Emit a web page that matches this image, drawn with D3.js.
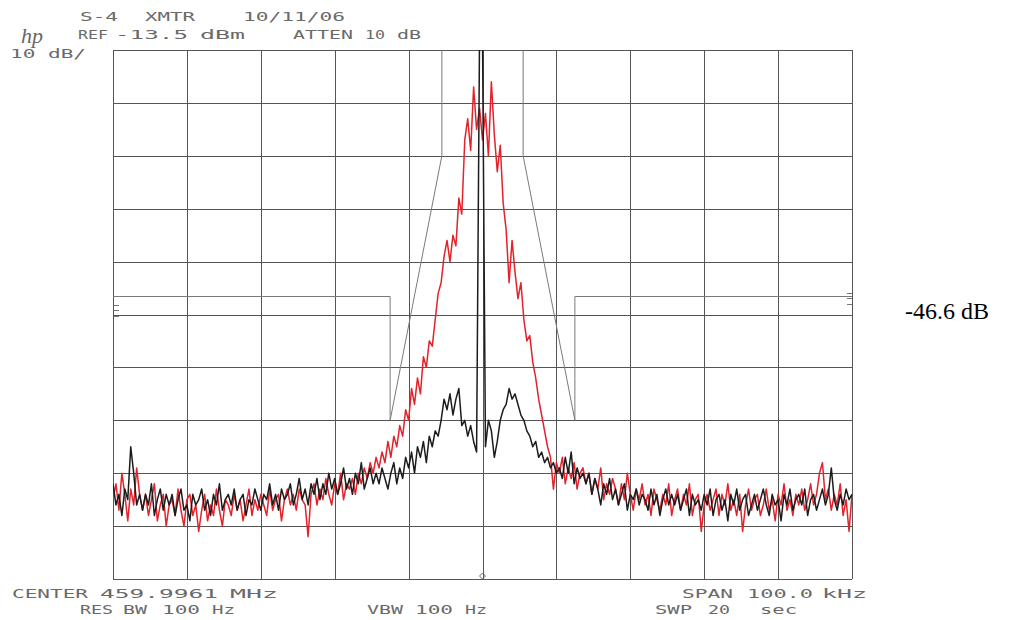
<!DOCTYPE html>
<html>
<head>
<meta charset="utf-8">
<script src="https://cdn.jsdelivr.net/npm/d3@7"></script>
<style>
  html, body { margin: 0; padding: 0; background: #fff; }
  svg { display: block; }
</style>
</head>
<body>
<svg id="chart" width="1019" height="620"></svg>
<script>
// sweep: -50 .. +50 kHz around centre, 0.4 kHz per sample, dB relative to REF
var spanKHz = [-50, 50];
var levelDb = [-100, 0];
var gridFreqs = [-50, -40, -30, -20, -10, 0, 10, 20, 30, 40, 50];
var gridLevels = [-100, -90, -80, -70, -60, -50, -40, -30, -20, -10, 0];
var sampleStep = 0.4;

// red trace (modulated carrier)
var redTrace = [
  -85, -82, -87, -80, -84, -89, -83, -86, -79, -84,
  -87, -84, -88, -85, -82, -89, -86, -84, -90, -86,
  -85, -88, -83, -87, -90, -85, -84, -88, -86, -91,
  -87, -84, -89, -86, -88, -83, -87, -90, -85, -86,
  -88, -84, -87, -85, -89, -86, -83, -88, -85, -87,
  -84, -86, -88, -83, -87, -85, -84, -89, -85, -83,
  -86, -84, -87, -83, -85, -86, -92, -84, -82, -86,
  -83, -85, -81, -84, -86, -82, -84, -80, -85, -82,
  -83, -81, -84, -80, -82, -79, -81, -78, -80, -77,
  -79, -76, -78, -74, -77, -73, -75, -71, -73, -68,
  -70, -64, -67, -62, -65, -58, -60, -55, -56, -51,
  -46, -44, -39, -36, -40, -35, -37, -28, -31, -17,
  -13, -19, -7, -15, -11, -17, -12, -20, -6, -16,
  -23, -18, -29, -34, -44, -36, -42, -47, -44, -51,
  -55, -54, -59, -62, -66, -69, -72, -75, -77, -83,
  -78, -80, -77, -82, -79, -81, -78, -83, -80, -79,
  -82, -80, -84, -81, -83, -79, -85, -82, -84, -81,
  -83, -86, -82, -85, -80, -84, -87, -83, -85, -82,
  -86, -84, -88, -83, -85, -87, -84, -86, -82, -88,
  -85, -83, -87, -84, -86, -82, -88, -85, -84, -91,
  -86, -84, -87, -85, -83, -88, -84, -86, -82, -87,
  -85, -88, -84, -91, -86, -83, -87, -85, -84, -88,
  -86, -83, -87, -85, -89, -84, -86, -82, -87, -85,
  -88, -84, -86, -83, -87, -85, -82, -86, -84, -80,
  -78, -85, -83, -87, -84, -86, -82, -88, -85, -91,
  -84
];

// black trace (unmodulated carrier, spike runs off the top)
var blackTrace = [
  -82, -86, -84, -88, -83, -85, -75, -80, -86, -84,
  -87, -84, -86, -82, -88, -85, -83, -87, -84, -86,
  -84, -88, -85, -83, -87, -86, -89, -84, -86, -85,
  -83, -87, -85, -88, -84, -86, -82, -87, -85, -84,
  -86, -83, -87, -85, -84, -88, -85, -86, -83, -85,
  -87, -84, -85, -82, -86, -84, -87, -83, -85, -84,
  -82, -86, -84, -81, -85, -83, -86, -82, -84, -81,
  -85, -82, -84, -80, -83, -81, -84, -82, -79, -83,
  -81, -84, -80, -82, -78, -83, -81, -79, -82, -80,
  -82, -79, -81, -83, -80, -78, -82, -79, -81, -77,
  -79, -76, -80, -75, -77, -74, -78, -73, -75, -72,
  -73, -70, -66, -68, -65, -69, -66, -64, -71, -70,
  -73, -71, -74, -76, 3, 3, -75, -70, -72, -77,
  -74, -70, -68, -67, -64, -66, -65, -67, -69, -70,
  -72, -73, -75, -74, -77, -76, -78, -77, -79, -78,
  -80, -79, -81, -77, -80, -76, -82, -79, -81, -80,
  -82, -80, -84, -81, -83, -86, -82, -84, -81, -85,
  -83, -86, -84, -82, -87, -84, -85, -83, -86, -84,
  -85, -87, -83, -86, -84, -88, -85, -83, -86, -84,
  -86, -84, -87, -85, -83, -88, -84, -86, -85, -87,
  -84, -86, -83, -88, -85, -84, -87, -85, -89, -84,
  -86, -83, -87, -85, -84, -88, -86, -84, -87, -85,
  -83, -86, -88, -84, -86, -85, -89, -84, -86, -83,
  -87, -85, -84, -86, -83, -88, -85, -84, -87, -85,
  -83, -86, -84, -79, -85, -87, -84, -86, -83, -85,
  -84
];

// emission mask (drawn in two halves)
var maskLeftFreq = [-50, -12.5, -12.5, -5.5, -5.5];
var maskLeftDb = [-46.6, -46.6, -70, -20, 0];
var maskRightFreq = [5.5, 5.5, 12.5, 12.5, 50];
var maskRightDb = [0, -20, -70, -46.6, -46.6];
var maskLevel = -46.6;
var maskLabel = '-46.6 dB';

// analyser annotations: [text, x, baseline, width]
var headerTexts = [
  ['S-4', 80, 21, 38], ['XMTR', 145, 21, 50], ['10/11/06', 243, 21, 102],
  ['REF', 78, 39, 30], ['-13.5', 115, 39, 73], ['dBm', 200, 39, 45],
  ['ATTEN', 293, 39, 60], ['10', 365, 39, 20], ['dB', 397, 39, 24],
  ['10 dB/', 10, 58, 76]
];
var footerTexts = [
  ['CENTER', 12, 598, 76], ['459.9961', 100, 598, 118], ['MHz', 230, 598, 48],
  ['RES', 80, 614, 33], ['BW', 123, 614, 24], ['100', 162, 614, 38], ['Hz', 212, 614, 23],
  ['VBW', 367, 614, 36], ['100', 415, 614, 38], ['Hz', 465, 614, 22],
  ['SPAN', 682, 598, 51], ['100.0', 747, 598, 66], ['kHz', 822, 598, 45],
  ['SWP', 655, 614, 37], ['20', 708, 614, 22], ['sec', 760, 614, 37]
];

var svg = d3.select('#chart');
var plotLeft = 113, plotRight = 852, plotTop = 50, plotBottom = 579;

var x = d3.scaleLinear().domain(spanKHz).range([plotLeft, plotRight]);
var y = d3.scaleLinear().domain(levelDb).range([plotBottom, plotTop]);

var freqs = redTrace.map((d, i) => spanKHz[0] + i * sampleStep);

svg.append('defs').append('clipPath').attr('id', 'plotclip')
  .append('rect')
  .attr('x', plotLeft).attr('y', plotTop)
  .attr('width', plotRight - plotLeft).attr('height', plotBottom - plotTop);

// graticule
var gridColor = '#555';
var gx = svg.append('g')
  .attr('transform', 'translate(0,' + plotBottom + ')')
  .call(d3.axisBottom(x).tickValues(gridFreqs).tickSize(-(plotBottom - plotTop)).tickFormat(''));
var gy = svg.append('g')
  .attr('transform', 'translate(' + plotLeft + ',0)')
  .call(d3.axisLeft(y).tickValues(gridLevels).tickSize(-(plotRight - plotLeft)).tickFormat(''));
[gx, gy].forEach(g => {
  g.select('.domain').remove();
  g.selectAll('line').attr('stroke', gridColor).attr('stroke-width', 1).attr('shape-rendering', 'crispEdges');
});

// mask
var maskLine = d3.line().x(d => x(d[0])).y(d => y(d[1]));
var maskColor = '#7a7a7a';
svg.append('path')
  .attr('d', maskLine(maskLeftFreq.map((f, i) => [f, maskLeftDb[i]])))
  .attr('fill', 'none').attr('stroke', maskColor).attr('stroke-width', 1);
svg.append('path')
  .attr('d', maskLine(maskRightFreq.map((f, i) => [f, maskRightDb[i]])))
  .attr('fill', 'none').attr('stroke', maskColor).attr('stroke-width', 1);

// display-line ticks at the frame edges
[0, 5, 11].forEach(off => {
  var yy = y(maskLevel) + 9 + off;
  svg.append('line').attr('x1', plotLeft + 1).attr('x2', plotLeft + 6).attr('y1', yy).attr('y2', yy)
    .attr('stroke', '#777').attr('stroke-width', 1);
  svg.append('line').attr('x1', plotRight - 5).attr('x2', plotRight).attr('y1', yy - 12).attr('y2', yy - 12)
    .attr('stroke', '#777').attr('stroke-width', 1);
});

// traces
var traceLine = d3.line().x((d, i) => x(freqs[i])).y(d => y(d));
var traces = svg.append('g').attr('clip-path', 'url(#plotclip)');
traces.append('path')
  .attr('d', traceLine(redTrace))
  .attr('fill', 'none').attr('stroke', '#e3222c').attr('stroke-width', 1.5)
  .attr('stroke-linejoin', 'round');
traces.append('path')
  .attr('d', traceLine(blackTrace))
  .attr('fill', 'none').attr('stroke', '#1c1c1c').attr('stroke-width', 1.5)
  .attr('stroke-linejoin', 'round');

// centre marker at the bottom
var mx = x(0), my = plotBottom - 3;
svg.append('path')
  .attr('d', 'M' + mx + ',' + (my - 3) + 'L' + (mx + 3) + ',' + my + 'L' + mx + ',' + (my + 3) + 'L' + (mx - 3) + ',' + my + 'Z')
  .attr('fill', 'none').attr('stroke', '#666').attr('stroke-width', 1);

// plotter text
function plotterText(rows) {
  svg.append('g').selectAll('text').data(rows).enter()
    .append('text')
    .attr('x', d => d[1]).attr('y', d => d[2])
    .attr('textLength', d => d[3]).attr('lengthAdjust', 'spacingAndGlyphs')
    .attr('font-family', 'DejaVu Sans Mono')
    .attr('font-size', 13)
    .attr('fill', '#6a6a6a')
    .text(d => d[0]);
}
plotterText(headerTexts);
plotterText(footerTexts);

svg.append('text')
  .attr('x', 21).attr('y', 43)
  .attr('font-family', 'Liberation Serif').attr('font-style', 'italic')
  .attr('font-size', 22).attr('fill', '#666')
  .text('hp');

svg.append('text')
  .attr('x', 905).attr('y', y(maskLevel) + 22)
  .attr('font-family', 'Liberation Serif')
  .attr('font-size', 24).attr('fill', '#000')
  .text(maskLabel);
</script>
</body>
</html>
